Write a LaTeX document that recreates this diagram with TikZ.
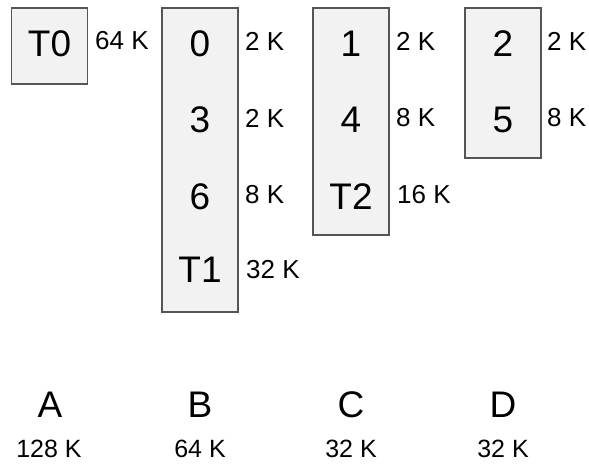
\documentclass[tikz,border=0pt]{standalone}
\usepackage{fontspec}
\setmainfont{Liberation Sans}
\begin{document}
\begin{tikzpicture}[x=1bp,y=-1bp]
  \definecolor{cellfill}{HTML}{F2F2F2}
  \definecolor{cellline}{HTML}{555555}
  \tikzset{
    cell/.style={draw=cellline, fill=cellfill, line width=1.3bp, inner sep=0pt,
                 minimum width=76bp},
    big/.style={inner sep=0pt, font=\fontsize{37bp}{37bp}\selectfont},
    size/.style={inner sep=0pt, anchor=west, font=\fontsize{26bp}{26bp}\selectfont},
    total/.style={inner sep=0pt, font=\fontsize{25bp}{25bp}\selectfont}
  }
  \useasboundingbox (0,0) rectangle (589,467);

  % memory blocks
  \node[cell, minimum height=76bp]  (boxT0) at (49.5,46) {};
  \node[cell, minimum height=304bp] (boxB)  at (200,160) {};
  \node[cell, minimum height=227bp] (boxC)  at (351,121.5) {};
  \node[cell, minimum height=150bp] (boxD)  at (503,83) {};

  % block contents
  \node[big] (t0) at (49.5,43.5) {T0};
  \node[big] (b0) at (200,44)  {0};
  \node[big] (b3) at (200,119.5) {3};
  \node[big] (b6) at (200,196.5) {6};
  \node[big] (b7) at (200,270) {T1};
  \node[big] (c1) at (351,44)  {1};
  \node[big] (c4) at (351,119.5) {4};
  \node[big] (c7) at (351,196.5) {T2};
  \node[big] (d2) at (503,44)  {2};
  \node[big] (d5) at (503,119.5) {5};

  % block sizes
  \node[size] (st0) at (95,41)  {64 K};
  \node[size] (sb0) at (245,41) {2 K};
  \node[size] (sb3) at (245,118) {2 K};
  \node[size] (sb6) at (245,195) {8 K};
  \node[size] (sb7) at (246,270) {32 K};
  \node[size] (sc1) at (396,41) {2 K};
  \node[size] (sc4) at (396,118) {8 K};
  \node[size] (sc7) at (397,195) {16 K};
  \node[size] (sd2) at (547,41) {2 K};
  \node[size] (sd5) at (547,118) {8 K};

  % column names and totals
  \node[big]   (nA) at (50,405)  {A};
  \node[big]   (nB) at (200,405) {B};
  \node[big]   (nC) at (351,405) {C};
  \node[big]   (nD) at (503,405) {D};
  \node[total] (tA) at (49,449)  {128 K};
  \node[total] (tB) at (200,449) {64 K};
  \node[total] (tC) at (351,449) {32 K};
  \node[total] (tD) at (503,449) {32 K};
\end{tikzpicture}
\end{document}
